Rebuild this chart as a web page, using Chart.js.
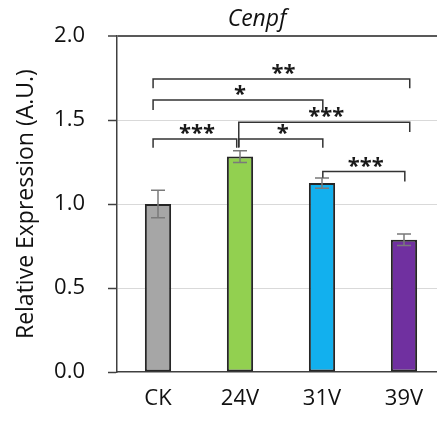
<!DOCTYPE html>
<html>
<head>
<meta charset="utf-8">
<script src="https://cdn.jsdelivr.net/npm/chart.js@4.4.1/dist/chart.umd.min.js"></script>
<style>
    html, body { margin: 0; padding: 0; background: #fff; overflow: hidden; }
    .wrap { position: relative; width: 437px; height: 425px; overflow: hidden; }
    .chart-title {
        position: absolute; left: 0; top: 6px; width: 514px;
        text-align: center; font: italic 23px 'Open Sans'; line-height: 22px; color: #111;
    }
    canvas { position: absolute; left: 0; top: 0; }
</style>
</head>
<body>
<div class="wrap">
    <canvas id="chart" width="446" height="425"></canvas>
    <div class="chart-title">Cenpf</div>
</div>
<script>
const categories = ['CK', '24V', '31V', '39V'];
const expression = [1.00, 1.283, 1.125, 0.788];
const errors = [0.082, 0.035, 0.03, 0.034];
const barColors = ['#a6a6a6', '#92d050', '#12b0ee', '#7030a0'];
const yTicks = [0, 0.5, 1.0, 1.5, 2.0];

// significance brackets: category positions, bar height of the bracket, leg ends
const brackets = [
    { from: -0.06, to: 3.07, level: 1.745, fromEnd: 1.69, toEnd: 1.69, label: '**' },
    { from: -0.06, to: 2.01, level: 1.62, fromEnd: 1.56, toEnd: 1.56, label: '*' },
    { from: 0.985, to: 3.07, level: 1.488, fromEnd: 1.34, toEnd: 1.43, label: '***' },
    { from: -0.06, to: 0.96, level: 1.387, fromEnd: 1.335, toEnd: 1.335, label: '***' },
    { from: 0.985, to: 2.01, level: 1.387, fromEnd: 1.335, toEnd: 1.335, label: '*' },
    { from: 2.01, to: 3.01, level: 1.194, fromEnd: 1.157, toEnd: 1.134, label: '***' }
];

const errorBars = {
    id: 'errorBars',
    afterDatasetsDraw(chart) {
        const ctx = chart.ctx;
        const y = chart.scales.y;
        const meta = chart.getDatasetMeta(0);
        ctx.save();
        ctx.strokeStyle = '#7a7a7a';
        ctx.lineWidth = 1.5;
        meta.data.forEach((bar, i) => {
            const top = y.getPixelForValue(expression[i] + errors[i]);
            const bottom = y.getPixelForValue(expression[i] - errors[i]);
            ctx.beginPath();
            ctx.moveTo(bar.x, top);
            ctx.lineTo(bar.x, bottom);
            ctx.moveTo(bar.x - 7, top);
            ctx.lineTo(bar.x + 7, top);
            ctx.moveTo(bar.x - 7, bottom);
            ctx.lineTo(bar.x + 7, bottom);
            ctx.stroke();
        });
        ctx.restore();
    }
};

const sigBrackets = {
    id: 'sigBrackets',
    afterDraw(chart) {
        const ctx = chart.ctx;
        const x = chart.scales.x;
        const y = chart.scales.y;
        ctx.save();
        ctx.strokeStyle = '#333';
        ctx.lineWidth = 1.5;
        ctx.fillStyle = '#1a1a1a';
        ctx.font = 'bold 22px "Open Sans"';
        ctx.textAlign = 'center';
        ctx.textBaseline = 'alphabetic';
        brackets.forEach(b => {
            const x1 = x.getPixelForValue(b.from);
            const x2 = x.getPixelForValue(b.to);
            const yl = y.getPixelForValue(b.level);
            ctx.beginPath();
            ctx.moveTo(x1, y.getPixelForValue(b.fromEnd));
            ctx.lineTo(x1, yl);
            ctx.lineTo(x2, yl);
            ctx.lineTo(x2, y.getPixelForValue(b.toEnd));
            ctx.stroke();
            ctx.fillText(b.label, (x1 + x2) / 2 + 2, yl + 1);
        });
        ctx.restore();
    }
};

new Chart(document.getElementById('chart'), {
    type: 'bar',
    data: {
        labels: categories,
        datasets: [{
            data: expression,
            backgroundColor: barColors,
            borderColor: '#262626',
            borderWidth: 2,
            borderSkipped: false,
            barPercentage: 0.32,
            categoryPercentage: 1
        }]
    },
    options: {
        responsive: false,
        animation: false,
        layout: { padding: { top: 35, right: 1, left: 0, bottom: 0 } },
        plugins: {
            legend: { display: false },
            tooltip: { enabled: false }
        },
        scales: {
            x: {
                afterFit: scale => { scale.height = 53; },
                grid: { display: false, drawTicks: false },
                border: { color: '#404040', width: 1.5 },
                ticks: {
                    color: '#111',
                    padding: 14,
                    font: { family: 'Open Sans', size: 22 }
                }
            },
            y: {
                min: 0,
                max: 2,
                afterFit: scale => { scale.width = 117; },
                afterBuildTicks: scale => { scale.ticks = yTicks.map(v => ({ value: v })); },
                grid: {
                    color: ctx => {
                        if (ctx.tick.value === 2) return '#595959';
                        if (ctx.tick.value === 0) return 'rgba(0,0,0,0)';
                        return '#d9d9d9';
                    },
                    lineWidth: ctx => ctx.tick.value === 2 ? 2 : 1,
                    tickColor: '#404040',
                    tickWidth: 1.5,
                    tickLength: 9
                },
                border: { color: '#404040', width: 1.5 },
                ticks: {
                    color: '#111',
                    padding: 23,
                    font: { family: 'Open Sans', size: 22 },
                    callback: v => v.toFixed(1)
                },
                title: {
                    display: true,
                    text: 'Relative Expression (A.U.)',
                    color: '#111',
                    padding: { top: 13, bottom: 0 },
                    font: { family: 'Open Sans', size: 23 }
                }
            }
        }
    },
    plugins: [errorBars, sigBrackets]
});
</script>
</body>
</html>
